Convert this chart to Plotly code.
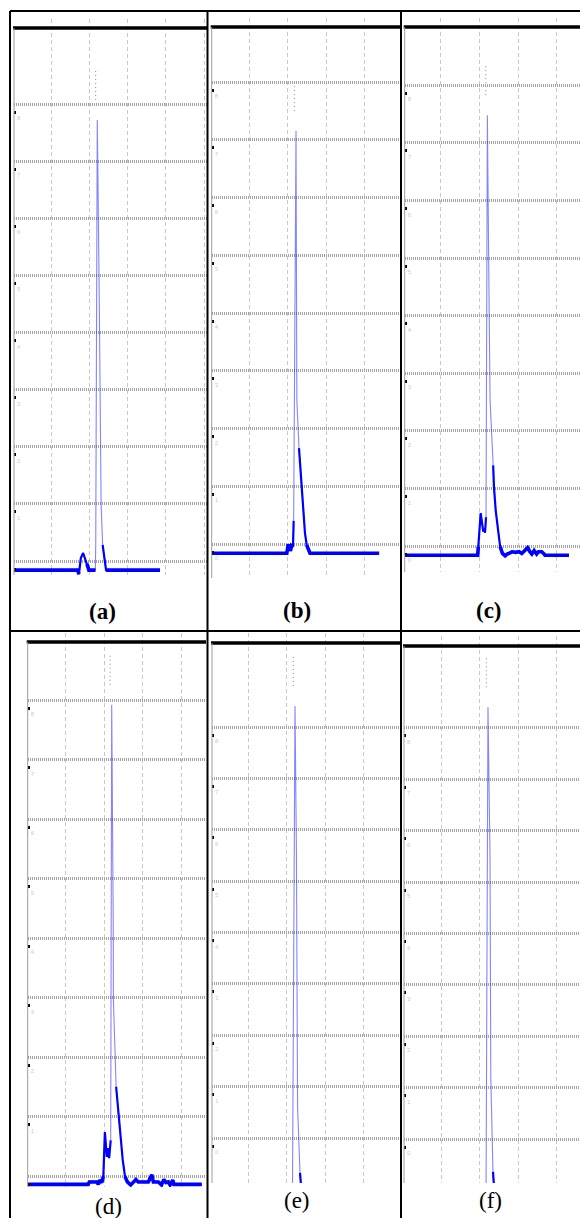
import plotly.graph_objects as go

W, H = 580, 1218

PANEL_LABELS = ["(a)", "(b)", "(c)", "(d)", "(e)", "(f)"]
GRID_LEVELS = [0, 1, 2, 3, 4, 5, 6, 7, 8]

# spectra (x in grid units, y in grid units)
A_X = [0.03, 1.70, 1.73, 1.78, 1.84, 1.89, 1.94, 1.99, 2.12, 2.16, 2.17, 2.21, 2.26, 2.28, 2.31, 2.35, 2.40, 2.44, 3.85]
A_Y = [-0.16, -0.16, -0.23, 0.05, 0.14, 0.03, -0.05, -0.16, -0.16, -0.16, 0.3, 7.72, 4.7, 2.8, 1.0, 0.28, 0.0, -0.16, -0.16]

B_X = [0.03, 1.98, 2.01, 2.05, 2.075, 2.10, 2.14, 2.157, 2.218, 2.232, 2.24, 2.295, 2.365, 2.41, 2.45, 2.495, 2.58, 4.37]
B_Y = [-0.16, -0.16, -0.03, -0.03, -0.12, -0.03, -0.05, 0.4, 7.15, 4.0, 2.49, 1.66, 0.95, 0.5, 0.19, -0.02, -0.16, -0.16]

C_X = [0.06, 1.95, 1.965, 2.027, 2.07, 2.095, 2.12, 2.14, 2.165, 2.20, 2.24, 2.27, 2.35, 2.37, 2.415, 2.47, 2.53, 2.59,
       2.66, 2.71, 2.785, 2.84, 2.93, 3.02, 3.09, 3.17, 3.24, 3.30, 3.35, 3.41, 3.475, 3.52, 3.605, 3.67, 3.69, 4.31]
C_Y = [-0.16, -0.16, -0.01, 0.57, 0.36, 0.25, 0.31, 0.23, 0.5, 7.48, 4.5, 2.53, 1.4, 1.03, 0.62, 0.28, -0.01, -0.13,
       -0.17, -0.14, -0.12, -0.1, -0.11, -0.1, -0.13, -0.08, -0.03, -0.1, -0.14, -0.08, -0.14, -0.1, -0.1, -0.14, -0.16, -0.16]

D_X = [0.03, 1.59, 1.62, 1.81, 1.85, 1.89, 1.94, 1.98, 2.02, 2.05, 2.07, 2.10, 2.13, 2.17, 2.196, 2.235, 2.24, 2.31, 2.34, 2.39,
       2.435, 2.48, 2.54, 2.60, 2.685, 2.75, 2.82, 2.88, 3.01, 3.14, 3.23, 3.27, 3.40, 3.48, 3.54, 3.595, 3.655, 3.70, 3.77, 3.80, 4.515]
D_Y = [-0.14, -0.14, -0.1, -0.1, -0.14, -0.07, -0.11, -0.01, 0.74, 0.55, 0.32, 0.47, 0.30, 0.6, 7.92, 4.3, 2.96, 1.50, 1.28, 0.94,
       0.61, 0.27, -0.01, -0.1, -0.15, -0.11, -0.06, -0.1, -0.1, -0.1, 0.02, -0.1, -0.1, -0.15, -0.06, -0.11, -0.1, -0.15, -0.07, -0.14, -0.14]

E_X = [2.145, 2.167, 2.212, 2.25, 2.257, 2.28, 2.343, 2.37, 2.40]
E_Y = [-1.2, 2.69, 8.41, 5.5, 2.69, 0.6, -0.68, -0.876, -1.2]

F_X = [2.166, 2.18, 2.217, 2.27, 2.288, 2.29, 2.347, 2.373, 2.40]
F_Y = [-1.2, 2.7, 8.40, 5.5, 2.70, 1.21, -0.64, -0.856, -1.2]

SPECTRA_X = [A_X, B_X, C_X, D_X, E_X, F_X]
SPECTRA_Y = [A_Y, B_Y, C_Y, D_Y, E_Y, F_Y]

# panel geometry (pixels) and styling
GEOM = [
    dict(left=14, right=207, dash_top=19, frame_top=28, bottom=575, x0=12.75, xppu=38.25, y0=561, yppu=57.125,
         thick=0.3, base=0.0, label=(102, 611), bold=True),
    dict(left=211.7, right=400, dash_top=18, frame_top=27, bottom=578, x0=210.4, xppu=38.6, y0=544, yppu=57.75,
         thick=1.7, base=0.0, label=(296.5, 610), bold=True),
    dict(left=404.7, right=580, dash_top=18, frame_top=27, bottom=572, x0=402.3, xppu=38.67, y0=546, yppu=57.6,
         thick=1.45, base=0.0, label=(489, 610), bold=True),
    dict(left=27.7, right=206, dash_top=633, frame_top=642, bottom=1187, x0=26.5, xppu=38.8, y0=1176, yppu=59.5,
         thick=1.55, base=0.05, label=(108, 1206), bold=False),
    dict(left=212, right=400, dash_top=633, frame_top=643, bottom=1183, x0=210.5, xppu=38.2, y0=1138, yppu=51.375,
         thick=-0.6, base=-5, label=(297, 1200), bold=False),
    dict(left=404, right=580, dash_top=636, frame_top=646, bottom=1183, x0=402.4, xppu=38.6, y0=1139, yppu=51.4,
         thick=-0.6, base=-5, label=(490, 1200), bold=False),
]


def px_x(px):
    return px / W


def px_y(py):
    return 1 - py / H


fig = go.Figure()
shapes = []
annotations = []
layout_axes = {}

for i, (xs, ys, g) in enumerate(zip(SPECTRA_X, SPECTRA_Y, GEOM)):
    sfx = "" if i == 0 else str(i + 1)
    xa, ya = "x" + sfx, "y" + sfx

    fig.add_trace(go.Scatter(x=xs, y=ys, mode="lines", xaxis=xa, yaxis=ya,
                             line=dict(color="rgba(50,50,255,0.6)", width=1.1), hoverinfo="skip"))
    tail_y = [v if v < g["thick"] else None for v in ys]
    fig.add_trace(go.Scatter(x=xs, y=tail_y, mode="lines", xaxis=xa, yaxis=ya, connectgaps=False,
                             line=dict(color="#0000ff", width=2.2), hoverinfo="skip"))
    base_y = [v if v < g["base"] else None for v in ys]
    fig.add_trace(go.Scatter(x=xs, y=base_y, mode="lines", xaxis=xa, yaxis=ya, connectgaps=False,
                             line=dict(color="#0000ff", width=3.6), hoverinfo="skip"))

    # small dotted marker above peak
    yp = max(ys)
    xp = xs[ys.index(yp)]
    fig.add_trace(go.Scatter(x=[xp - 1.6 / g["xppu"]] * 2, y=[yp + 20 / g["yppu"], yp + 52 / g["yppu"]],
                             mode="lines", xaxis=xa, yaxis=ya, hoverinfo="skip",
                             line=dict(color="#8a8a8a", width=1, dash="1px,3px")))

    layout_axes["xaxis" + sfx] = dict(
        domain=[px_x(g["left"]), px_x(g["right"])],
        range=[(g["left"] - g["x0"]) / g["xppu"], (g["right"] - g["x0"]) / g["xppu"]],
        anchor=ya, showgrid=True, gridcolor="#c8c8c8", griddash="4px,3px", gridwidth=1,
        tickmode="linear", tick0=0, dtick=1, showticklabels=False, ticks="",
        zeroline=False, showline=False, fixedrange=True,
    )
    layout_axes["yaxis" + sfx] = dict(
        domain=[px_y(g["bottom"]), px_y(g["dash_top"])],
        range=[(g["y0"] - g["bottom"]) / g["yppu"], (g["y0"] - g["dash_top"]) / g["yppu"]],
        anchor=xa, tickmode="array", tickvals=GRID_LEVELS, ticktext=[str(v) for v in GRID_LEVELS],
        showgrid=True, gridcolor="#a4a4a4", gridwidth=3, griddash="1px,1px",
        zeroline=False, showline=False, ticks="",
        showticklabels=True, ticklabelposition="inside", ticklabelshift=14,
        tickfont=dict(size=6, color="#cccccc", family="Liberation Sans"),
        minor=dict(tickmode="array", tickvals=[v - 8 / g["yppu"] for v in GRID_LEVELS],
                   ticks="inside", ticklen=2, tickwidth=3, tickcolor="black", showgrid=False),
        fixedrange=True,
    )

    # thick top frame line and left axis line
    shapes.append(dict(type="line", xref="paper", yref="paper",
                       x0=px_x(g["left"] - 1), x1=px_x(g["right"]),
                       y0=px_y(g["frame_top"]), y1=px_y(g["frame_top"]),
                       line=dict(color="black", width=3.5), layer="above"))
    shapes.append(dict(type="line", xref="paper", yref="paper",
                       x0=px_x(g["left"]), x1=px_x(g["left"]),
                       y0=px_y(g["frame_top"]), y1=px_y(g["bottom"]),
                       line=dict(color="#9c9c9c", width=1), layer="above"))

    lx, ly = g["label"]
    txt = PANEL_LABELS[i]
    annotations.append(dict(text=("<b>%s</b>" % txt) if g["bold"] else txt,
                            xref="paper", yref="paper", x=px_x(lx), y=px_y(ly),
                            xanchor="center", yanchor="middle", showarrow=False,
                            font=dict(family="Liberation Serif", size=23, color="black")))

# table borders
TABLE_V = [10, 207.5, 401]
TABLE_H = [11, 631]
for vx in TABLE_V:
    shapes.append(dict(type="line", xref="paper", yref="paper", x0=px_x(vx), x1=px_x(vx),
                       y0=px_y(11), y1=0, line=dict(color="black", width=2), layer="above"))
for hy in TABLE_H:
    shapes.append(dict(type="line", xref="paper", yref="paper", x0=px_x(10), x1=1,
                       y0=px_y(hy), y1=px_y(hy), line=dict(color="black", width=2), layer="above"))

fig.update_layout(
    width=W, height=H, margin=dict(l=0, r=0, t=0, b=0),
    paper_bgcolor="white", plot_bgcolor="rgba(0,0,0,0)",
    showlegend=False, shapes=shapes, annotations=annotations,
    **layout_axes,
)

fig.write_html("out.html")
